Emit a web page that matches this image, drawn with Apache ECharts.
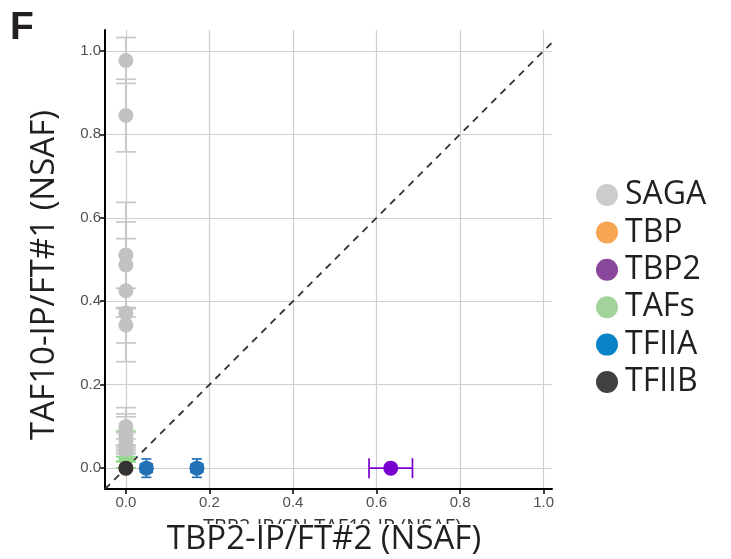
<!DOCTYPE html>
<html>
<head>
<meta charset="utf-8">
<script src="https://cdn.jsdelivr.net/npm/echarts@6/dist/echarts.min.js"></script>
<style>
  html, body { margin: 0; padding: 0; background: #ffffff; }
  #chart { width: 731px; height: 559px; }
</style>
</head>
<body>
<div id="chart"></div>
<script>
// Tick positions on both axes
const xTicks = [0, 0.2, 0.4, 0.6, 0.8, 1.0];
const yTicks = [0, 0.2, 0.4, 0.6, 0.8, 1.0];

// Legend order
const groupNames = ['SAGA', 'TBP', 'TBP2', 'TAFs', 'TFIIA', 'TFIIB'];

// SAGA subunits (NSAF values and their errors)
const sagaX    = [0, 0, 0, 0, 0, 0, 0, 0, 0, 0, 0, 0, 0];
const sagaY    = [0.977, 0.845, 0.511, 0.487, 0.425, 0.372, 0.343, 0.100, 0.090, 0.078, 0.065, 0.055, 0.045];
const sagaXErr = [0, 0, 0, 0, 0, 0, 0, 0, 0, 0, 0, 0, 0];
const sagaYErr = [0.055, 0.087, 0.126, 0.103, 0.125, 0.010, 0.088, 0.045, 0.040, 0.045, 0.020, 0.015, 0.010];

// TBP
const tbpX    = [0];
const tbpY    = [0];
const tbpXErr = [0];
const tbpYErr = [0];

// TBP2
const tbp2X    = [0.634];
const tbp2Y    = [0];
const tbp2XErr = [0.052];
const tbp2YErr = [0];

// TAFs
const tafsX    = [0, 0, 0];
const tafsY    = [0.045, 0.035, 0.022];
const tafsXErr = [0, 0, 0];
const tafsYErr = [0.044, 0.020, 0.005];

// TFIIA subunits
const tfiiaX    = [0.049, 0.170];
const tfiiaY    = [0, 0];
const tfiiaXErr = [0.014, 0.014];
const tfiiaYErr = [0.022, 0.022];

// TFIIB
const tfiibX    = [0];
const tfiibY    = [0];
const tfiibXErr = [0];
const tfiibYErr = [0];

// Identity line end points (y = x)
const diagLine = [-0.05, 1.02];

function rows(xs, ys, exs, eys) {
  return xs.map((x, i) => [x, ys[i], exs[i], eys[i]]);
}

const groups = [
  { name: 'TAFs',  rows: rows(tafsX, tafsY, tafsXErr, tafsYErr),     point: '#95d98e', bar: '#95d98e', legend: '#a1d39b', cap: 10 },
  { name: 'SAGA',  rows: rows(sagaX, sagaY, sagaXErr, sagaYErr),     point: '#c2c2c2', bar: '#c8c8c8', legend: '#cccccc', cap: 10 },
  { name: 'TBP',   rows: rows(tbpX, tbpY, tbpXErr, tbpYErr),         point: '#f5a352', bar: '#f5a352', legend: '#f6a552', cap: 6 },
  { name: 'TBP2',  rows: rows(tbp2X, tbp2Y, tbp2XErr, tbp2YErr),     point: '#7a00cf', bar: '#7a00cf', legend: '#89479c', cap: 10 },
  { name: 'TFIIA', rows: rows(tfiiaX, tfiiaY, tfiiaXErr, tfiiaYErr), point: '#2271b6', bar: '#2271b6', legend: '#0a84c6', cap: 5 },
  { name: 'TFIIB', rows: rows(tfiibX, tfiibY, tfiibXErr, tfiibYErr), point: '#333333', bar: '#333333', legend: '#414042', cap: 5 }
];

// Error bars with caps, in data coordinates
function errorBars(capHalf) {
  return function (params, api) {
    const x = api.value(0), y = api.value(1), ex = api.value(2), ey = api.value(3);
    const style = { stroke: api.visual('color'), lineWidth: 1.7, fill: null };
    const kids = [];
    const seg = (x1, y1, x2, y2) => kids.push({ type: 'line', shape: { x1, y1, x2, y2 }, style });
    if (ey > 0) {
      const t = api.coord([x, y + ey]), b = api.coord([x, y - ey]);
      seg(t[0], t[1], b[0], b[1]);
      seg(t[0] - capHalf, t[1], t[0] + capHalf, t[1]);
      seg(b[0] - capHalf, b[1], b[0] + capHalf, b[1]);
    }
    if (ex > 0) {
      const l = api.coord([x - ex, y]), r = api.coord([x + ex, y]);
      seg(l[0], l[1], r[0], r[1]);
      seg(l[0], l[1] - capHalf, l[0], l[1] + capHalf);
      seg(r[0], r[1] - capHalf, r[0], r[1] + capHalf);
    }
    return { type: 'group', children: kids };
  };
}

const series = [{
  type: 'line',
  data: [[diagLine[0], diagLine[0]], [diagLine[1], diagLine[1]]],
  symbol: 'none',
  silent: true,
  lineStyle: { color: '#333333', width: 1.8, type: [7, 6] },
  z: 1
}];

groups.forEach((g, i) => {
  series.push({
    name: g.name,
    type: 'custom',
    renderItem: errorBars(g.cap),
    data: g.rows,
    itemStyle: { color: g.bar },
    silent: true,
    z: 2 + i * 2
  });
  series.push({
    name: g.name,
    type: 'scatter',
    data: g.rows.map(r => [r[0], r[1]]),
    symbol: 'circle',
    symbolSize: 15,
    itemStyle: { color: g.point, opacity: 1 },
    z: 3 + i * 2
  });
});

const legendColor = {};
groups.forEach(g => { legendColor[g.name] = g.legend; });

const chart = echarts.init(document.getElementById('chart'), null, { renderer: 'canvas' });

chart.setOption({
  animation: false,
  backgroundColor: '#ffffff',
  grid: { left: 105, right: 179, top: 30, bottom: 70, containLabel: false },
  xAxis: {
    type: 'value',
    min: -0.05,
    max: 1.02,
    axisLine: { show: true, onZero: false, lineStyle: { color: '#000000', width: 2 } },
    axisTick: { show: true, length: 5, customValues: xTicks, lineStyle: { color: '#000000', width: 1.5 } },
    axisLabel: {
      customValues: xTicks,
      formatter: v => v.toFixed(1),
      color: '#505050', fontSize: 15, margin: 6, fontFamily: 'Liberation Sans'
    },
    splitLine: { show: true, lineStyle: { color: '#cfcfcf', width: 1.2 } }
  },
  yAxis: {
    type: 'value',
    min: -0.05,
    max: 1.05,
    axisLine: { show: true, onZero: false, lineStyle: { color: '#000000', width: 2 } },
    axisTick: { show: true, length: 5, customValues: yTicks, lineStyle: { color: '#000000', width: 1.5 } },
    axisLabel: {
      customValues: yTicks,
      formatter: v => v.toFixed(1),
      color: '#505050', fontSize: 15, margin: 4, fontFamily: 'Liberation Sans'
    },
    splitLine: { show: true, lineStyle: { color: '#cfcfcf', width: 1.2 } }
  },
  legend: {
    orient: 'vertical',
    left: 596,
    top: 179,
    padding: 0,
    itemGap: 5.4,
    itemWidth: 22,
    itemHeight: 22,
    icon: 'circle',
    selectedMode: false,
    data: groupNames.map(n => ({ name: n, itemStyle: { color: legendColor[n] } })),
    textStyle: { fontSize: 32, lineHeight: 32, color: '#231f20', fontFamily: 'Open Sans', padding: [0, 0, 0, 2] }
  },
  graphic: [
    {
      type: 'text', left: 10, top: 9, z: 100,
      style: { text: 'F', font: 'bold 39px "Liberation Sans"', fill: '#231f20' }
    },
    {
      type: 'text', x: 332, y: 527, z: 100,
      style: { text: 'TBP2-IP/SN-TAF10-IP (NSAF)', font: '20px "Open Sans"', fill: '#333333', align: 'center', verticalAlign: 'middle' }
    },
    {
      type: 'rect', z: 101,
      shape: { x: 150, y: 524, width: 360, height: 35 },
      style: { fill: '#ffffff' }
    },
    {
      type: 'text', x: 324, y: 540, z: 102,
      style: { text: 'TBP2-IP/FT#2 (NSAF)', font: '33px "Open Sans"', fill: '#231f20', align: 'center', verticalAlign: 'middle' }
    },
    {
      type: 'text', x: 45, y: 275, rotation: Math.PI / 2, z: 102,
      style: { text: 'TAF10-IP/FT#1 (NSAF)', font: '33px "Open Sans"', fill: '#231f20', align: 'center', verticalAlign: 'middle' }
    }
  ],
  series: series
});
</script>
</body>
</html>
